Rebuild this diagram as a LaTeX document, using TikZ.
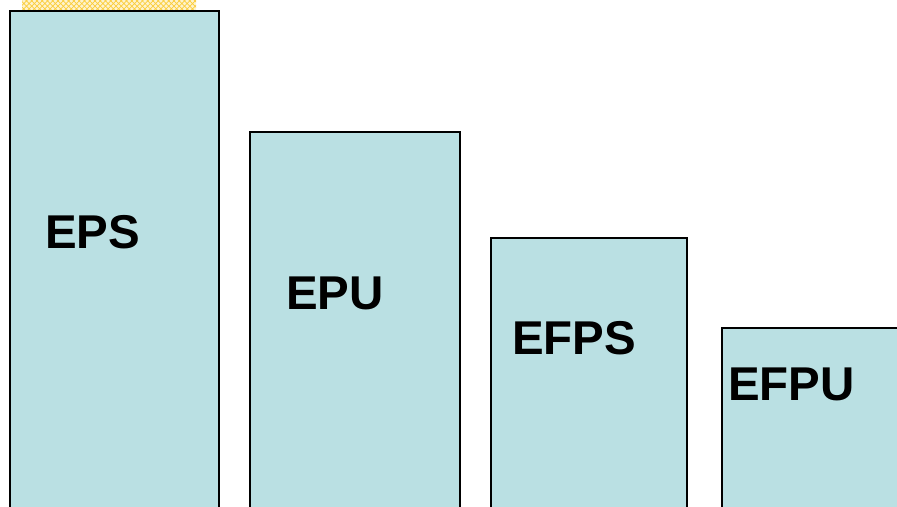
\documentclass[tikz,border=0pt]{standalone}
\usepackage{fontspec}
\setmainfont{Liberation Sans}
\usepackage{tikz}
\usetikzlibrary{patterns}
\definecolor{barfill}{RGB}{186,224,227}
\definecolor{hatchyellow}{RGB}{250,205,60}
\tikzset{
  bar/.style={draw=black, fill=barfill, line width=0.85pt},
  barlabel/.style={anchor=base west, inner sep=0pt, font=\bfseries\fontsize{27}{27}\selectfont}
}

\begin{document}
\begin{tikzpicture}[x=0.02cm, y=-0.02cm]
    \useasboundingbox (0,0) rectangle (897,507);
    \clip (0,0) rectangle (897,507);

    % cut-off strip at the top
    \fill[hatchyellow!25] (22,-2) rectangle (196,10);
    \fill[pattern=crosshatch, pattern color=hatchyellow] (22,-2) rectangle (196,10);

    % Bars
    \draw[bar] (10,11) rectangle (219,530);
    \draw[bar] (250,132) rectangle (460,530);
    \draw[bar] (491,238) rectangle (687,530);
    \draw[bar] (722,328) rectangle (920,530);

    % Labels
    \node[barlabel] (eps)  at (45,248)  {EPS};
    \node[barlabel] (epu)  at (286,309) {EPU};
    \node[barlabel] (efps) at (512,354) {EFPS};
    \node[barlabel] (efpu) at (728,400) {EFPU};
\end{tikzpicture}
\end{document}
